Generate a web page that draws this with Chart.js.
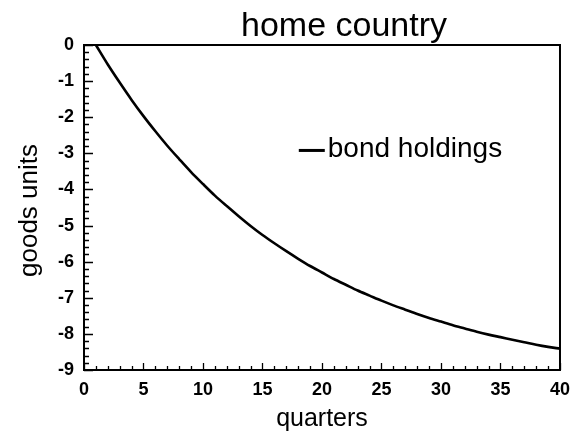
<!DOCTYPE html>
<html>
<head>
<meta charset="utf-8">
<script src="https://cdn.jsdelivr.net/npm/chart.js@4.4.1/dist/chart.umd.min.js"></script>
<style>
html,body{margin:0;padding:0;background:#fff;}
canvas{display:block;}
</style>
</head>
<body>
<canvas id="c" width="579" height="433"></canvas>
<script>
// ---- data ----
const chartTitle = "home country";
const xTitle = "quarters";
const yTitle = "goods units";
const seriesName = "bond holdings";
const quarters = [1,2,3,4,5,6,7,8,9,10,11,12,13,14,15,16,17,18,19,20,
                  21,22,23,24,25,26,27,28,29,30,31,32,33,34,35,36,37,38,39,40];
const bondHoldings = [0.00,-0.54,-1.04,-1.52,-1.97,-2.39,-2.79,-3.16,-3.52,-3.85,
                      -4.17,-4.46,-4.74,-5.01,-5.26,-5.49,-5.71,-5.92,-6.12,-6.30,
                      -6.48,-6.64,-6.80,-6.94,-7.08,-7.21,-7.33,-7.45,-7.56,-7.66,
                      -7.76,-7.85,-7.94,-8.02,-8.09,-8.16,-8.23,-8.30,-8.36,-8.41];
const xTicks = [0,5,10,15,20,25,30,35,40];
const yTicks = [0,-1,-2,-3,-4,-5,-6,-7,-8,-9];

const points = quarters.map((q,i)=>({x:q,y:bondHoldings[i]}));

const decor = {
  id:'decor',
  afterDraw(chart){
    const ctx = chart.ctx, a = chart.chartArea;
    const xs = chart.scales.x, ys = chart.scales.y;
    ctx.save();
    ctx.strokeStyle = '#000';
    ctx.fillStyle = '#000';
    // frame
    ctx.lineWidth = 2;
    ctx.strokeRect(a.left, a.top, a.right - a.left, a.bottom - a.top);
    // inward ticks
    ctx.lineWidth = 1.3;
    ctx.beginPath();
    for (let v = 0; v <= 40; v += 1) {
      const px = Math.round(xs.getPixelForValue(v)) + 0.5;
      const len = (v % 5 === 0) ? 7 : 4;
      ctx.moveTo(px, a.bottom); ctx.lineTo(px, a.bottom - len);
    }
    for (let k = 0; k <= 45; k++) {
      const v = -k * 0.2;
      const py = Math.round(ys.getPixelForValue(v)) + 0.5;
      const len = (k % 5 === 0) ? 9 : 5;
      ctx.moveTo(a.left, py); ctx.lineTo(a.left + len, py);
    }
    ctx.stroke();
    // chart title
    ctx.font = '34px "Liberation Sans", Arial, sans-serif';
    ctx.textAlign = 'center';
    ctx.textBaseline = 'alphabetic';
    ctx.fillText(chartTitle, 344, 36);
    // x title
    ctx.font = '25px "Liberation Sans", Arial, sans-serif';
    ctx.fillText(xTitle, (a.left + a.right) / 2, 426);
    // y title
    ctx.save();
    ctx.translate(37, (a.top + a.bottom) / 2 + 3);
    ctx.rotate(-Math.PI / 2);
    ctx.font = '26px "Liberation Sans", Arial, sans-serif';
    ctx.fillText(yTitle, 0, 0);
    ctx.restore();
    // in-plot label
    const lx = xs.getPixelForValue(18.05), ly = ys.getPixelForValue(-2.92);
    ctx.lineWidth = 3;
    ctx.beginPath();
    ctx.moveTo(lx, ly); ctx.lineTo(lx + 26, ly);
    ctx.stroke();
    ctx.font = '28px "Liberation Sans", Arial, sans-serif';
    ctx.textAlign = 'left';
    ctx.fillText(seriesName, lx + 29, ly + 7);
    ctx.restore();
  }
};

new Chart(document.getElementById('c'), {
  type: 'line',
  data: {
    datasets: [{
      label: seriesName,
      data: points,
      borderColor: '#000',
      borderWidth: 2.6,
      pointRadius: 0,
      fill: false,
      tension: 0.3,
      clip: false
    }]
  },
  options: {
    responsive: false,
    animation: false,
    devicePixelRatio: 1,
    layout: { padding: { left: 0, top: 45, right: 15, bottom: 0 } },
    plugins: { legend: { display: false }, title: { display: false }, tooltip: { enabled: false } },
    scales: {
      x: {
        type: 'linear', min: 0, max: 40,
        afterFit(s){ s.height = 63; },
        afterBuildTicks(s){ s.ticks = xTicks.map(v=>({value:v})); },
        grid: { display: false, drawTicks: false },
        border: { display: false },
        ticks: { color: '#000', padding: 9, maxRotation: 0, autoSkip: false,
                 font: { family: '"Liberation Sans", Arial, sans-serif', size: 18, weight: 'bold' } }
      },
      y: {
        type: 'linear', min: -9, max: 0,
        afterFit(s){ s.width = 84; },
        afterBuildTicks(s){ s.ticks = yTicks.map(v=>({value:v})); },
        grid: { display: false, drawTicks: false },
        border: { display: false },
        ticks: { color: '#000', padding: 10, autoSkip: false,
                 font: { family: '"Liberation Sans", Arial, sans-serif', size: 18, weight: 'bold' } }
      }
    }
  },
  plugins: [decor]
});
</script>
</body>
</html>
